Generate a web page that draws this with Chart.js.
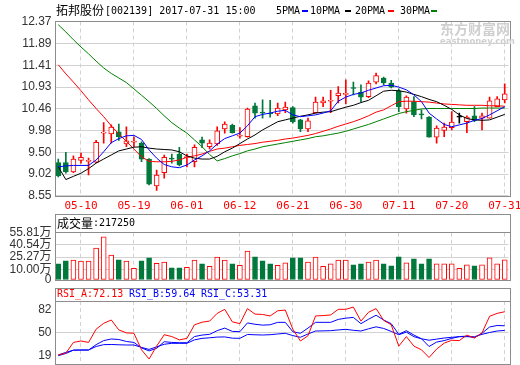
<!DOCTYPE html>
<html><head><meta charset="utf-8">
<script src="https://cdn.jsdelivr.net/npm/chart.js@4.4.1/dist/chart.umd.min.js"></script>
<style>
html,body{margin:0;padding:0;background:#fff;}
body{width:520px;height:365px;position:relative;overflow:hidden;}
canvas{position:absolute;left:0;}
.t{position:absolute;white-space:pre;font-family:'DejaVu Sans Mono',monospace;font-size:10px;line-height:12px;height:12px;color:#000;}
.c{position:absolute;white-space:pre;font-family:'Noto Sans CJK SC';font-size:12px;line-height:14px;height:14px;color:#000;}
.f{position:absolute;border:1px solid #8c8c8c;box-sizing:border-box;}
.h{position:absolute;height:1px;background:#8c8c8c;}
.d{position:absolute;height:2px;}
</style></head>
<body>
<canvas id="cMain" width="520" height="215" style="top:0"></canvas>
<canvas id="cVol" width="520" height="85" style="top:200px"></canvas>
<canvas id="cRsi" width="520" height="80" style="top:285px"></canvas>

<div class="f" style="left:55px;top:21px;width:456px;height:176px"></div>
<div class="f" style="left:55px;top:214px;width:456px;height:67px"></div>
<div class="h" style="left:55px;top:232px;width:456px"></div>
<div class="f" style="left:55px;top:288px;width:456px;height:77px"></div>
<div class="h" style="left:55px;top:301px;width:456px"></div>

<div class="c" style="left:56px;top:3px">拓邦股份</div>
<div class="t" style="left:105px;top:5px">[002139] 2017-07-31 15:00</div>
<div class="t" style="left:276px;top:5px">5PMA</div><div class="d" style="left:302px;top:10px;width:6px;background:#0000ff"></div>
<div class="t" style="left:310px;top:5px">10PMA</div><div class="d" style="left:345px;top:10px;width:6px;background:#000"></div>
<div class="t" style="left:355px;top:5px">20PMA</div><div class="d" style="left:388px;top:10px;width:6px;background:#ff0000"></div>
<div class="t" style="left:400px;top:5px">30PMA</div><div class="d" style="left:431px;top:10px;width:6px;background:#008000"></div>

<div style="position:absolute;left:440px;top:20px;font-family:'Noto Sans CJK SC';font-weight:bold;font-size:14px;line-height:17px;color:#cfcfcf;white-space:pre">东方财富网</div>
<div style="position:absolute;left:440px;top:36px;font-family:'DejaVu Sans';font-weight:bold;font-size:8.5px;line-height:10px;color:#cfcfcf;white-space:pre">eastmoney.com</div>

<div class="c" style="left:57px;top:216px">成交量</div>
<div class="t" style="left:93px;top:217px">:217250</div>

<div class="t" style="left:57px;top:288px;color:#ff0000">RSI_A:72.13</div>
<div class="t" style="left:129px;top:288px;color:#0000ff">RSI_B:59.64</div>
<div class="t" style="left:201px;top:288px;color:#0000ff">RSI_C:53.31</div>

<script>
const dates=['05-05','05-08','05-09','05-10','05-11','05-12','05-15','05-16','05-17','05-18','05-19','05-22','05-23','05-24','05-25','05-26','05-31',
'06-01','06-02','06-05','06-06','06-07','06-08','06-09','06-12','06-13','06-14','06-15','06-16','06-19','06-20','06-21','06-22','06-23','06-26','06-27','06-28','06-29','06-30',
'07-03','07-04','07-05','07-06','07-07','07-10','07-11','07-12','07-13','07-14','07-17','07-18','07-19','07-20','07-21','07-24','07-25','07-26','07-27','07-28','07-31'];
const tickLabels=['05-10','05-19','06-01','06-12','06-21','06-30','07-11','07-20','07-31'];

const open=[9.27,9.27,9.07,9.32,9.30,9.28,9.92,9.90,9.95,9.68,9.72,9.70,9.35,8.76,9.05,9.36,9.46,9.38,9.29,9.77,9.62,9.68,10.01,10.09,9.85,9.84,10.52,10.37,10.35,10.34,10.43,10.48,10.21,10.01,10.37,10.58,10.62,10.74,10.77,10.91,10.82,10.72,11.04,11.13,11.02,10.85,10.45,10.61,10.33,10.27,9.83,9.98,10.04,10.27,10.17,10.30,10.25,10.25,10.50,10.65];
const high=[9.35,9.50,9.42,9.48,9.37,9.76,10.15,10.10,10.12,10.06,9.84,9.73,9.36,9.11,9.44,9.46,9.61,9.46,9.66,9.83,9.77,10.06,10.17,10.12,10.04,10.47,10.58,10.65,10.64,10.58,10.60,10.50,10.22,10.25,10.71,10.71,10.86,10.94,11.09,11.04,10.98,11.07,11.24,11.15,11.08,10.89,10.74,10.72,10.43,10.28,10.08,10.14,10.39,10.36,10.30,10.50,10.36,10.71,10.72,11.00];
const low=[8.96,9.04,9.05,9.26,9.00,9.27,9.70,9.70,9.76,9.62,9.62,9.29,8.78,8.66,8.93,9.26,9.20,9.18,9.18,9.60,9.57,9.65,9.92,9.92,9.81,9.83,10.25,10.25,10.27,10.30,10.37,10.14,9.95,9.95,10.36,10.50,10.37,10.58,10.56,10.76,10.61,10.70,11.00,10.98,10.91,10.39,10.36,10.28,10.23,9.83,9.70,9.84,9.99,10.14,9.93,10.17,9.99,10.25,10.50,10.58];
const close=[8.98,9.07,9.35,9.39,9.31,9.72,9.93,10.05,9.84,9.75,9.73,9.35,8.80,9.00,9.39,9.35,9.22,9.40,9.61,9.70,9.70,9.97,10.12,9.93,9.86,10.45,10.36,10.36,10.34,10.47,10.49,10.17,10.01,10.19,10.60,10.63,10.63,10.80,10.78,10.90,10.71,11.02,11.18,11.02,10.93,10.50,10.71,10.32,10.32,9.83,10.03,10.05,10.16,10.27,10.27,10.20,10.30,10.63,10.67,10.78];

const ma5=[9.18,9.20,9.21,9.21,9.21,9.33,9.51,9.71,9.80,9.86,9.87,9.78,9.55,9.37,9.23,9.18,9.16,9.22,9.33,9.42,9.53,9.68,9.80,9.86,9.92,10.08,10.28,10.33,10.36,10.40,10.42,10.32,10.28,10.30,10.32,10.36,10.41,10.62,10.71,10.77,10.80,10.86,10.91,10.96,10.97,10.93,10.87,10.76,10.61,10.36,10.23,10.11,10.06,10.10,10.14,10.20,10.24,10.32,10.41,10.50];
const ma10=[9.18,8.90,8.97,9.04,9.14,9.26,9.35,9.44,9.53,9.57,9.61,9.62,9.59,9.57,9.56,9.55,9.51,9.42,9.37,9.35,9.35,9.41,9.51,9.59,9.69,9.79,9.88,9.99,10.08,10.17,10.21,10.25,10.29,10.32,10.36,10.38,10.39,10.44,10.49,10.53,10.59,10.64,10.74,10.84,10.86,10.85,10.82,10.77,10.72,10.66,10.61,10.53,10.44,10.32,10.24,10.21,10.20,10.21,10.27,10.33];
const ma20=[11.42,11.22,11.04,10.85,10.65,10.46,10.28,10.08,9.90,9.74,9.57,9.40,9.30,9.29,9.29,9.30,9.33,9.39,9.42,9.46,9.52,9.57,9.59,9.62,9.65,9.67,9.69,9.72,9.74,9.76,9.79,9.81,9.84,9.87,9.91,9.96,10.01,10.07,10.12,10.17,10.23,10.30,10.38,10.43,10.52,10.61,10.62,10.62,10.61,10.60,10.58,10.56,10.55,10.54,10.53,10.53,10.53,10.52,10.52,10.51];
const ma30=[12.30,12.14,11.97,11.81,11.66,11.50,11.35,11.23,11.13,11.03,10.89,10.75,10.61,10.46,10.30,10.15,10.03,9.92,9.77,9.62,9.45,9.31,9.36,9.42,9.47,9.53,9.57,9.62,9.65,9.68,9.71,9.74,9.77,9.80,9.84,9.86,9.89,9.92,9.96,10.01,10.06,10.11,10.17,10.23,10.29,10.35,10.39,10.42,10.45,10.46,10.46,10.46,10.46,10.46,10.46,10.46,10.47,10.47,10.47,10.47];

const volume=[16.7,20.6,21.5,20.2,20.2,36.7,50.7,27.8,21.8,20.2,11.3,20.6,24.4,17.6,18.9,11.7,11.7,12.5,21.5,16.7,13.8,25.3,21.5,16.7,15.1,32.9,25.6,20.6,16.7,15.1,18.0,24.4,24.4,18.9,25.3,13.8,16.7,21.5,21.5,15.5,16.7,18.9,21.5,16.7,14.2,25.6,18.0,23.1,16.7,23.1,16.7,16.7,16.7,11.3,15.5,14.2,15.5,24.4,16.7,21.73];

const rsiA=[20,22.5,37,39,37,55,63,67.5,54,50,49.5,27,14.5,32,47.5,45,40.5,42.5,61,64.5,66,76.5,82,65,62.5,83,75.5,75,73,80,81,55,39,46,73,73.5,74.3,82,82,85,66,78,83,67,61,32,45,32,27,16.5,28,36,40,39.5,47,43,50,72.5,76.5,78.7];
const rsiB=[19,22,26.5,26.7,26.7,34,39.5,41.7,41,38.3,37,29.5,25.5,29,38,37,36.6,36.6,45,47,48,53,56.5,52,51.6,63.5,61.7,60.5,61,64.3,64.3,51.5,49.4,56.5,64.3,64.3,64.3,68.3,70,71,62.5,68.5,74,67.5,62.5,48,53,47,42,31.5,37.5,39.5,42.5,45,45.5,43.5,49.5,58,60,59.64];
const rsiC=[20,23.5,26.5,26.7,26.7,31.5,34,34.2,33.8,33.5,33.5,30.3,27.5,31,34.5,35.8,35.8,35.8,40.5,42.5,43.3,44.3,44.5,42.8,42.6,47.8,47.4,47.1,47.5,48.5,49.4,46.3,44,48.5,52.5,52.7,53,54,54.8,53.5,52.5,55.5,58.2,56,52,47.5,51,44.8,42,40,41.5,43,44,44.8,44.8,44.8,48,50.5,52.5,53.31];

const priceTicks=[8.55,9.02,9.50,9.98,10.46,10.93,11.41,11.89,12.37];
const volTicks=[10.00,25.27,40.54,55.81];
const VOL_MIN=-3.4;
const rsiTicks=[19,50,82];

const RED='#ff0000', GREEN='#00783c', GRID='#d2d2d2';
const isTick=i=>tickLabels.includes(dates[i]);
const cColor=i=>close[i]>open[i]?RED:(close[i]<open[i]?GREEN:'#000000');
const vUp=i=>close[i]>=open[i];

function xAxis(h,show){
  return {type:'category',offset:true,
    grid:{offset:false,drawTicks:false,lineWidth:1,color:c=>isTick(c.index)?GRID:'rgba(0,0,0,0)'},
    border:{display:false,dash:[4,3]},
    ticks:{display:show,autoSkip:false,maxRotation:0,minRotation:0,padding:4,color:RED,
      font:{family:"'DejaVu Sans Mono'",size:11},callback:(v,i)=>isTick(i)?dates[i]:''},
    afterFit:s=>{s.height=h;s.paddingLeft=0;s.paddingRight=0;}};
}
function yAxis(min,max,ticks,fmt,gridFn){
  return {type:'linear',min:min,max:max,
    afterBuildTicks:s=>{s.ticks=ticks.map(v=>({value:v}));},
    grid:{drawTicks:false,lineWidth:1,color:gridFn},
    border:{display:false},
    ticks:{autoSkip:false,padding:3,color:'#333333',font:{family:"'Liberation Sans','Noto Sans CJK SC'",size:12},callback:fmt},
    afterFit:s=>{s.width=54.5;s.paddingTop=0;s.paddingBottom=0;}};
}
const common={responsive:false,animation:false,devicePixelRatio:1,events:[],
  plugins:{legend:{display:false},tooltip:{enabled:false}}};

new Chart(document.getElementById('cMain'),{
  data:{labels:dates,datasets:[
    {type:'line',data:ma5,borderColor:'#0000ff',borderWidth:1,pointRadius:0,tension:0,order:1},
    {type:'line',data:ma10,borderColor:'#000000',borderWidth:1,pointRadius:0,tension:0,order:2},
    {type:'line',data:ma20,borderColor:'#ff0000',borderWidth:1,pointRadius:0,tension:0,order:3},
    {type:'line',data:ma30,borderColor:'#008000',borderWidth:1,pointRadius:0,tension:0,order:4},
    {type:'bar',data:dates.map((d,i)=>[open[i],close[i]]),grouped:false,barThickness:5,minBarLength:1,
      borderWidth:1,borderSkipped:false,borderColor:c=>cColor(c.dataIndex),
      backgroundColor:c=>close[c.dataIndex]>open[c.dataIndex]?'#ffffff':cColor(c.dataIndex),order:10},
    {type:'bar',data:dates.map((d,i)=>[low[i],high[i]]),grouped:false,barThickness:1,
      borderWidth:0,backgroundColor:c=>cColor(c.dataIndex),order:11}
  ]},
  options:Object.assign({},common,{layout:{padding:{top:21.5,right:11.5,left:0,bottom:0}},
    scales:{x:xAxis(19.5,true),y:yAxis(8.55,12.37,priceTicks,v=>v.toFixed(2),()=>GRID)}})
});

new Chart(document.getElementById('cVol'),{
  data:{labels:dates,datasets:[
    {type:'bar',data:volume,base:VOL_MIN,barThickness:5,borderWidth:1,borderSkipped:false,
      borderColor:c=>vUp(c.dataIndex)?RED:GREEN,
      backgroundColor:c=>vUp(c.dataIndex)?'#ffffff':GREEN}
  ]},
  options:Object.assign({},common,{layout:{padding:{top:32.7,right:11.5,left:0,bottom:0}},
    scales:{x:xAxis(5,false),y:yAxis(VOL_MIN,55.81,[VOL_MIN].concat(volTicks),v=>v<=VOL_MIN?'0':v.toFixed(2)+'万',c=>(c.tick&&c.tick.value>VOL_MIN&&c.tick.value<55)?GRID:'rgba(0,0,0,0)')}})
});

new Chart(document.getElementById('cRsi'),{
  data:{labels:dates,datasets:[
    {type:'line',data:rsiA,borderColor:'#ff0000',borderWidth:1,pointRadius:0,tension:0},
    {type:'line',data:rsiB,borderColor:'#0000ff',borderWidth:1,pointRadius:0,tension:0},
    {type:'line',data:rsiC,borderColor:'#0000ff',borderWidth:1,pointRadius:0,tension:0}
  ]},
  options:Object.assign({},common,{layout:{padding:{top:16,right:11.5,left:0,bottom:0}},
    scales:{x:xAxis(1,false),y:yAxis(7.7,93.3,rsiTicks,v=>String(v),c=>(c.tick&&c.tick.value===50)?GRID:'rgba(0,0,0,0)')}})
});
</script>
</body></html>
